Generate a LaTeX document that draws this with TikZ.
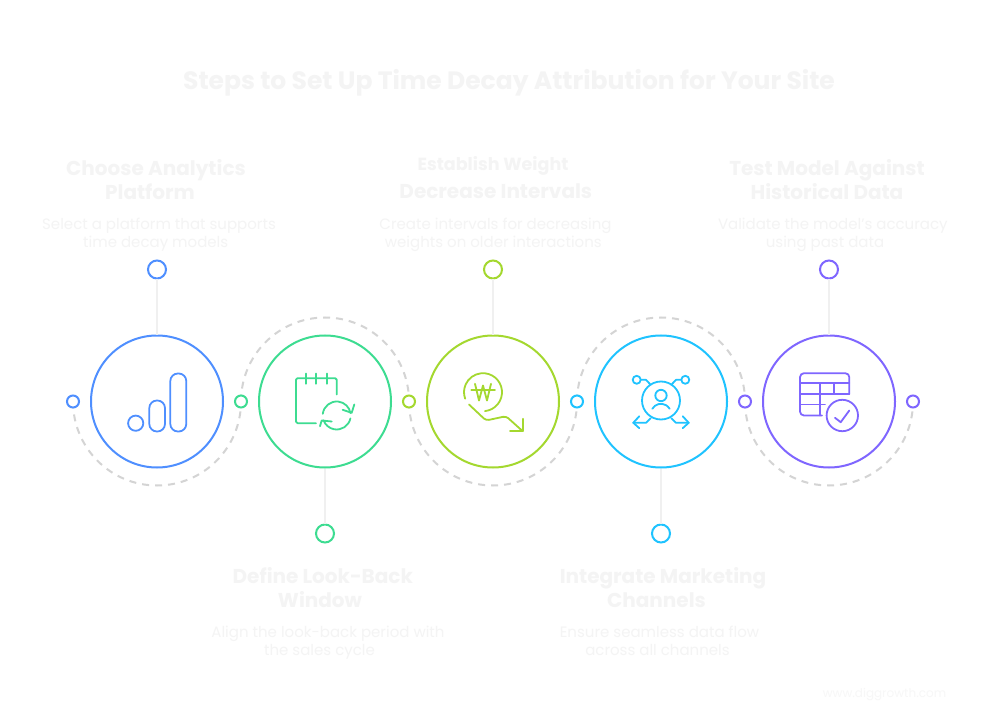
\documentclass[tikz,border=0pt]{standalone}
\usepackage{fontspec}
\setmainfont{Poppins}
\usetikzlibrary{positioning}
\definecolor{blueC}{HTML}{4F8FFF}
\definecolor{greenC}{HTML}{3DDC91}
\definecolor{limeC}{HTML}{A4D82F}
\definecolor{cyanC}{HTML}{1FC3FF}
\definecolor{purpleC}{HTML}{7F66FF}
\definecolor{paleC}{HTML}{F4F4F4}
\definecolor{faintC}{HTML}{F7F7F7}
\newcommand{\pull}[1]{\hspace*{#1pt}}
\begin{document}
\begin{tikzpicture}[x=1pt, y=-1pt, node distance=168pt, on grid, line width=2pt,
    main/.style = {draw, circle, inner sep=0pt, minimum size=132pt, fill=white},
    tip/.style = {draw, circle, inner sep=0pt, minimum size=18pt, fill=white},
    dot/.style = {draw, circle, inner sep=0pt, minimum size=12pt, fill=white},
    stem/.style = {draw=black!6},
    gaparc/.style = {draw=black!17, dash pattern=on 7pt off 6pt},
    icon/.style = {line width=1.8pt, line join=round, line cap=round},
    heading/.style = {text=paleC, font=\fontsize{20}{24}\selectfont\bfseries, align=center, inner sep=0pt,
        execute at begin node=\strut, execute at end node=\strut},
    body/.style = {text=paleC, font=\fontsize{15}{18}\selectfont, align=center, inner sep=0pt,
        execute at begin node=\strut, execute at end node=\strut}]
    \useasboundingbox[fill=white] (0,0) rectangle (986,722);

    \node[text=paleC, font=\fontsize{25}{30}\selectfont\bfseries] (title) at (509,83) {Steps to Set Up Time Decay Attribution for Your Site};

    % dashed arcs go first, the dots sit on them
    \coordinate (s0) at (73,401.5);
    \coordinate (s1) at (241,401.5);
    \coordinate (s2) at (409,401.5);
    \coordinate (s3) at (577,401.5);
    \coordinate (s4) at (745,401.5);
    \coordinate (s5) at (913,401.5);
    \draw[gaparc] (s0) arc[start angle=180, end angle=360, radius=84pt];
    \draw[gaparc] (s1) arc[start angle=180, end angle=0, radius=84pt];
    \draw[gaparc] (s2) arc[start angle=180, end angle=360, radius=84pt];
    \draw[gaparc] (s3) arc[start angle=180, end angle=0, radius=84pt];
    \draw[gaparc] (s4) arc[start angle=180, end angle=360, radius=84pt];

    \node[main, draw=blueC] (1) at (157,401.5) {};
    \node[main, draw=greenC] (2) [right=of 1] {};
    \node[main, draw=limeC] (3) [right=of 2] {};
    \node[main, draw=cyanC] (4) [right=of 3] {};
    \node[main, draw=purpleC] (5) [right=of 4] {};

    \node[dot, draw=blueC] (d0) at (s0) {};
    \node[dot, draw=greenC] (d1) at (s1) {};
    \node[dot, draw=limeC] (d2) at (s2) {};
    \node[dot, draw=cyanC] (d3) at (s3) {};
    \node[dot, draw=purpleC] (d4) at (s4) {};
    \node[dot, draw=purpleC] (d5) at (s5) {};

    \node[tip, draw=blueC] (t1) [above=132pt of 1] {};
    \node[tip, draw=greenC] (t2) [below=132pt of 2] {};
    \node[tip, draw=limeC] (t3) [above=132pt of 3] {};
    \node[tip, draw=cyanC] (t4) [below=132pt of 4] {};
    \node[tip, draw=purpleC] (t5) [above=132pt of 5] {};

    \draw[stem] (t1) -- (1);
    \draw[stem] (t2) -- (2);
    \draw[stem] (t3) -- (3);
    \draw[stem] (t4) -- (4);
    \draw[stem] (t5) -- (5);

    \node[heading] (h1) at (156,183) {Choose Analytics\\Platform\pull{12}};
    \node[body] (b1) at (159,235) {Select a platform that supports\\time decay models\pull{6.6}};
    \node[heading] (h2) at (322.8,591.5) {Define Look-Back\\Window\pull{5.6}};
    \node[body] (b2) at (328,643) {Align the look-back period with\\the sales cycle\pull{17}};
    \node[heading] (h3) at (495.8,181) {{\fontsize{17.5}{24}\selectfont Establish Weight}\pull{5.6}\\[4pt]Decrease Intervals};
    \node[body] (b3) at (495.5,235) {Create intervals for decreasing\\weights on older interactions\pull{4.4}};
    \node[heading] (h4) at (663,591.5) {Integrate Marketing\\Channels\pull{13}};
    \node[body] (b4) at (659.5,643) {Ensure seamless data flow\\across all channels\pull{4}};
    \node[heading] (h5) at (827,183) {Test Model Against\\Historical Data};
    \node[body] (b5) at (832.8,235) {Validate the model's accuracy\\using past data\pull{15.6}};

    \node[text=faintC, font=\fontsize{12}{14}\selectfont] (web) at (884.5,694.5) {www.diggrowth.com};

    % bars
    \begin{scope}[shift={(1)}, icon, draw=blueC]
        \draw (-21.3,21.7) circle[radius=7.6pt];
        \draw[rounded corners=7.6pt] (-7.7,-1) rectangle (8,30);
        \draw[rounded corners=7.6pt] (13.3,-28) rectangle (29.3,30);
    \end{scope}

    % calendar
    \begin{scope}[shift={(2)}, icon, draw=greenC]
        \draw[rounded corners=1.5pt] (11.7,-7) -- (11.7,-23.3) -- (-29,-23.3) -- (-29,21.7) -- (-9,21.7);
        \draw (-19,-28) -- (-19,-17.7);
        \draw (-9,-28) -- (-9,-17.7);
        \draw (1.7,-28) -- (1.7,-17.7);
        \draw (11.7,14) ++(173:14pt) arc[start angle=173, end angle=10, radius=14pt];
        \draw (11.7,14) ++(-12:14pt) arc[start angle=-12, end angle=-160, radius=14pt];
        \draw (17.7,8.3) -- (26.7,11.3) -- (29.3,3);
        \draw (6.7,20) -- (-3.3,19) -- (-5,24.7);
    \end{scope}

    % coin
    \begin{scope}[shift={(3)}, icon, draw=limeC]
        \draw (-10,-9.3) ++(-84:19pt) arc[start angle=-84, end angle=200, radius=19pt];
        \draw (-18,-17.7) -- (-14,-1) -- (-10,-16) -- (-6,-1) -- (-2,-17.7);
        \draw (-21.7,-11.7) -- (2,-11.7);
        \draw[rounded corners=3pt] (-24,3) -- (-7,19) -- (13,14.7) -- (29.7,29.7);
        \draw (29.7,17.3) -- (29.7,29.7) -- (17,29.7);
    \end{scope}

    % person
    \begin{scope}[shift={(4)}, icon, draw=cyanC]
        \draw (0,-1) circle[radius=19pt];
        \draw (0,-6) circle[radius=5.7pt];
        \draw (-8.7,7.3) arc[start angle=150, end angle=30, radius=10pt];
        \draw (-24.3,-21.7) circle[radius=4pt];
        \draw (24.3,-21.7) circle[radius=4pt];
        \draw (-20,-21.7) -- (-15,-21.7) -- (-10.3,-16.7);
        \draw (20,-21.7) -- (15,-21.7) -- (10.3,-16.7);
        \draw (-10.3,16.7) -- (-15,21.3) -- (-27.7,21.3);
        \draw (10.3,16.7) -- (15,21.3) -- (27.7,21.3);
        \draw (-21.7,14.7) -- (-27.7,21.3) -- (-21.7,26.7);
        \draw (21.7,14.7) -- (27.7,21.3) -- (21.7,26.7);
    \end{scope}

    % table
    \begin{scope}[shift={(5)}, icon, draw=purpleC]
        \draw[rounded corners=4pt] (20.3,-7.7) -- (20.3,-28.3) -- (-29,-28.3) -- (-29,14) -- (-7,14);
        \draw (-29,-18.3) -- (20.3,-18.3);
        \draw (-29,-7.7) -- (20.3,-7.7);
        \draw (-29,3) -- (-4,3);
        \draw (-9,-18.3) -- (-9,14);
        \draw (5.3,-18.3) -- (5.3,-7.7);
        \draw (13.3,14) circle[radius=15.7pt];
        \draw (6,16.3) -- (11.7,20.7) -- (20.3,9);
    \end{scope}

\end{tikzpicture}
\end{document}
